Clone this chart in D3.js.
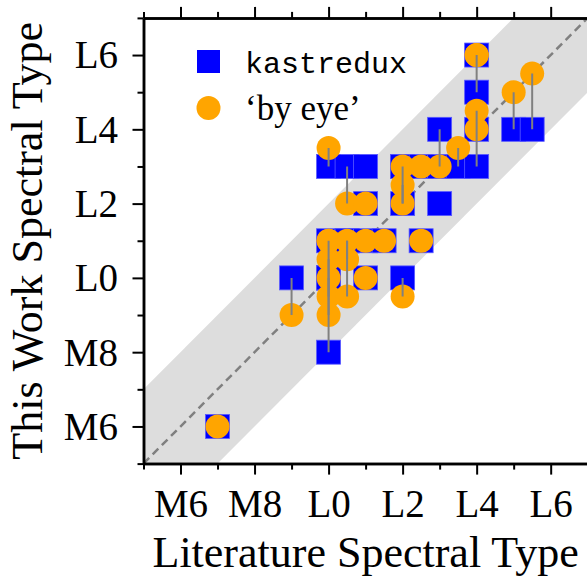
<!DOCTYPE html>
<html>
<head>
<meta charset="utf-8">
<script src="https://cdn.jsdelivr.net/npm/d3@7"></script>
<style>
  body { margin: 0; background: #fff; }
  text { font-family: "Liberation Serif", "Times New Roman", serif; fill: #000; }
</style>
</head>
<body>
<script>
// spectral types as numbers: M5=15 ... M9=19, L0=20 ... L7=27
// one entry per object: literature type, kastredux type, 'by eye' type (null = none)
var litType  = [17, 19, 20, 20,   20, 20,   20, 20, 20,   20.5, 20.5, 20.5, 20.5, 21, 21, 21, 21, 21.5, 22, 22, 22,   22,   22.5, 22.5, 23, 23, 23, 23.5, 24, 24, 24, 24,   25, 25.5];
var kastType = [16, 20, 18, 20,   20, 20,   20, 21, 23,   21,   21,   21,   23,   23, 22, 21, 20, 21,   23, 23, 22,   20,   23,   21,   24, 23, 22, 23,   26, 25, 24, 23,   24, 24];
var eyeType  = [16, 19, 21, 20.5, 20, 19.5, 19, 21, 23.5, 21,   20.5, 19.5, 22,   null, 22, 21, 20, 21, 23, 22, 22.5, 19.5, 23,   21,   23, null, null, 23.5, 26, 26, 24, 24.5, 25, 25.5];

var tickValues = [16, 18, 20, 22, 24, 26];
var tickLabels = ["M6", "M8", "L0", "L2", "L4", "L6"];
var minorValues = [15, 17, 19, 21, 23, 25, 27];

var objects = litType.map(function(d, i) {
    return {lit: d, kast: kastType[i], eye: eyeType[i]};
});

var width = 587, height = 577;

var svg = d3.select("body").append("svg")
    .attr("width", width)
    .attr("height", height);

//scales - plot box is square, right edge falls just outside the window
var xScale = d3.scaleLinear().domain([15, 27]).range([143.5, 587.7]);
var yScale = d3.scaleLinear().domain([15, 27]).range([463.6, 17.9]);

svg.append("clipPath").attr("id", "clip")
    .append("rect")
    .attr("x", xScale(15)).attr("y", yScale(27))
    .attr("width", xScale(27) - xScale(15))
    .attr("height", yScale(15) - yScale(27));

var plot = svg.append("g").attr("clip-path", "url(#clip)");

//+-2 subtype band
var band = [[15, 13], [29, 27], [27, 29], [13, 15]];
plot.append("path")
    .attr("d", d3.line().x(function(d) { return xScale(d[0]); }).y(function(d) { return yScale(d[1]); })(band) + "Z")
    .attr("fill", "#dddddd");

//one to one line
plot.append("line")
    .attr("x1", xScale(15)).attr("y1", yScale(15))
    .attr("x2", xScale(27)).attr("y2", yScale(27))
    .attr("stroke", "#808080")
    .attr("stroke-width", 2.5)
    .attr("stroke-dasharray", "8,5");

var msize = 24;

plot.selectAll("rect.kast")
    .data(objects)
    .enter()
    .append("rect")
    .attr("class", "kast")
    .attr("x", function(d) { return xScale(d.lit) - msize / 2; })
    .attr("y", function(d) { return yScale(d.kast) - msize / 2; })
    .attr("width", msize)
    .attr("height", msize)
    .attr("fill", "#0000ff")
    .attr("stroke", "#5a5aff")
    .attr("stroke-width", 0.8);

var withEye = objects.filter(function(d) { return d.eye !== null; });

plot.selectAll("circle.eye")
    .data(withEye)
    .enter()
    .append("circle")
    .attr("class", "eye")
    .attr("cx", function(d) { return xScale(d.lit); })
    .attr("cy", function(d) { return yScale(d.eye); })
    .attr("r", msize / 2)
    .attr("fill", "#ffa500");

//connectors between the two classifications
plot.selectAll("line.link")
    .data(withEye.filter(function(d) { return d.eye !== d.kast; }))
    .enter()
    .append("line")
    .attr("class", "link")
    .attr("x1", function(d) { return xScale(d.lit); })
    .attr("x2", function(d) { return xScale(d.lit); })
    .attr("y1", function(d) { return yScale(d.kast); })
    .attr("y2", function(d) { return yScale(d.eye); })
    .attr("stroke", "#808080")
    .attr("stroke-width", 2);

//axes: major and minor ticks, labels left and bottom
function styleAxis(g) {
    g.select(".domain").attr("stroke", "#000").attr("stroke-width", 2.5);
    g.selectAll(".tick line").attr("stroke", "#000").attr("stroke-width", 2);
}

var fmt = function(d) { return tickLabels[tickValues.indexOf(d)]; };

var xAxis = svg.append("g")
    .attr("transform", "translate(0," + yScale(15) + ")")
    .call(d3.axisBottom(xScale).tickValues(tickValues).tickFormat(fmt).tickSize(11).tickSizeOuter(0))
    .call(styleAxis);
xAxis.selectAll("text")
    .attr("y", 53).attr("dy", 0)
    .style("font-size", "39px")
    .style("font-family", "Liberation Serif");

svg.append("g")
    .attr("transform", "translate(0," + yScale(15) + ")")
    .call(d3.axisBottom(xScale).tickValues(minorValues).tickFormat("").tickSize(6).tickSizeOuter(0))
    .call(styleAxis);

var yAxis = svg.append("g")
    .attr("transform", "translate(" + xScale(15) + ",0)")
    .call(d3.axisLeft(yScale).tickValues(tickValues).tickFormat(fmt).tickSize(11).tickSizeOuter(0))
    .call(styleAxis);
yAxis.selectAll("text")
    .attr("x", -25.5).attr("dy", "0.33em")
    .style("font-size", "39px")
    .style("font-family", "Liberation Serif");

svg.append("g")
    .attr("transform", "translate(" + xScale(15) + ",0)")
    .call(d3.axisLeft(yScale).tickValues(minorValues).tickFormat("").tickSize(6).tickSizeOuter(0))
    .call(styleAxis);

svg.append("g")
    .attr("transform", "translate(0," + yScale(27) + ")")
    .call(d3.axisTop(xScale).tickValues(tickValues).tickFormat("").tickSize(11).tickSizeOuter(0))
    .call(styleAxis);
svg.append("g")
    .attr("transform", "translate(0," + yScale(27) + ")")
    .call(d3.axisTop(xScale).tickValues(minorValues).tickFormat("").tickSize(6).tickSizeOuter(0))
    .call(styleAxis);

//axis labels
svg.append("text")
    .attr("x", (xScale(15) + xScale(27)) / 2)
    .attr("y", 567)
    .attr("text-anchor", "middle")
    .style("font-size", "44px")
    .text("Literature Spectral Type");

svg.append("text")
    .attr("transform", "translate(42," + (yScale(15) + yScale(27)) / 2 + ") rotate(-90)")
    .attr("text-anchor", "middle")
    .style("font-size", "44px")
    .text("This Work Spectral Type");

//legend
var legend = svg.append("g");
legend.append("rect")
    .attr("x", 197).attr("y", 50)
    .attr("width", 23).attr("height", 23)
    .attr("fill", "#0000ff");
legend.append("circle")
    .attr("cx", 208.5).attr("cy", 108)
    .attr("r", 12)
    .attr("fill", "#ffa500");
legend.append("text")
    .attr("x", 245).attr("y", 73)
    .style("font-family", "'Liberation Mono', monospace")
    .style("font-size", "30px")
    .text("kastredux");
legend.append("text")
    .attr("x", 245).attr("y", 120)
    .style("font-size", "35px")
    .text("\u2018by eye\u2019");
</script>
</body>
</html>
